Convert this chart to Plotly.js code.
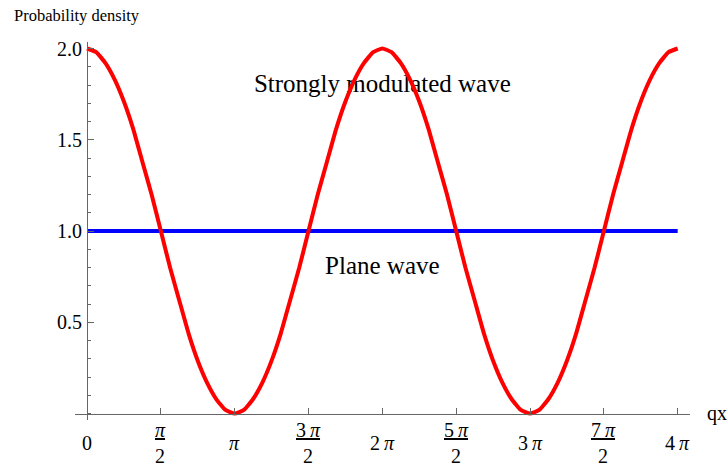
<!DOCTYPE html>
<html>
<head>
<meta charset="utf-8">
<script src="https://cdn.plot.ly/plotly-3.0.1.min.js"></script>
<style>html,body{margin:0;padding:0;background:#fff;}#chart{width:728px;height:468px;}</style>
</head>
<body>
<div id="chart"></div>
<script>
// qx sample points (radians, steps of pi/16) and values
const qx = [0, 0.196, 0.393, 0.589, 0.785, 0.982, 1.178, 1.374, 1.571, 1.767, 1.963, 2.160, 2.356, 2.553, 2.749, 2.945,
            3.142, 3.338, 3.534, 3.731, 3.927, 4.123, 4.320, 4.516, 4.712, 4.909, 5.105, 5.301, 5.498, 5.694, 5.890, 6.087,
            6.283, 6.480, 6.676, 6.872, 7.069, 7.265, 7.461, 7.658, 7.854, 8.050, 8.247, 8.443, 8.639, 8.836, 9.032, 9.228,
            9.425, 9.621, 9.817, 10.014, 10.210, 10.407, 10.603, 10.799, 10.996, 11.192, 11.388, 11.585, 11.781, 11.977, 12.174, 12.370,
            12.566];
const modulated = [2.00, 1.98, 1.92, 1.83, 1.71, 1.56, 1.38, 1.20, 1.00, 0.80, 0.62, 0.44, 0.29, 0.17, 0.08, 0.02,
                   0.00, 0.02, 0.08, 0.17, 0.29, 0.44, 0.62, 0.80, 1.00, 1.20, 1.38, 1.56, 1.71, 1.83, 1.92, 1.98,
                   2.00, 1.98, 1.92, 1.83, 1.71, 1.56, 1.38, 1.20, 1.00, 0.80, 0.62, 0.44, 0.29, 0.17, 0.08, 0.02,
                   0.00, 0.02, 0.08, 0.17, 0.29, 0.44, 0.62, 0.80, 1.00, 1.20, 1.38, 1.56, 1.71, 1.83, 1.92, 1.98,
                   2.00];
const planeX = [0, 12.566];
const plane = [1, 1];
const xTickVals = [0, 1.571, 3.142, 4.712, 6.283, 7.854, 9.425, 10.996, 12.566];
const xTickText = ['0', '<u><i>π</i></u><br>2', '<i>π</i>', '<u>3\u2009<i>π</i></u><br>2', '2\u2009<i>π</i>',
                   '<u>5\u2009<i>π</i></u><br>2', '3\u2009<i>π</i>', '<u>7\u2009<i>π</i></u><br>2', '4\u2009<i>π</i>'];
const yTickVals = [0.5, 1.0, 1.5, 2.0];
const yTickText = ['0.5', '1.0', '1.5', '2.0'];
const curveLabels = ['Strongly modulated wave', 'Plane wave'];

const FONT = '"Liberation Serif", "Times New Roman", serif';
const AX = '#666666';
const xr = [-0.2553, 12.828];
const yr = [-0.035, 2.0356];

const traces = [
  {x: [6.283, 6.283], y: [1.795, 0.80], mode: 'text', text: curveLabels, textposition: 'middle center',
   textfont: {family: FONT, size: 25, color: '#000'}, hoverinfo: 'skip', showlegend: false},
  {x: planeX, y: plane, mode: 'lines', line: {color: '#0000ff', width: 4}, showlegend: false},
  {x: qx, y: modulated, mode: 'lines', line: {color: '#ff0000', width: 4, shape: 'spline', smoothing: 0.4}, showlegend: false}
];

const annotations = xTickVals.map((v, i) => ({
  x: v, xref: 'x', y: -0.0610, yref: 'paper', text: xTickText[i], showarrow: false,
  xanchor: 'center', yanchor: 'middle', font: {family: FONT, size: 20, color: '#000'}
}));
annotations.push({x: 1.0244, xref: 'paper', y: 0.017, yref: 'paper', text: 'qx', showarrow: false,
  xanchor: 'left', yanchor: 'middle', font: {family: FONT, size: 20, color: '#000'}});
annotations.push({x: -0.1024, xref: 'paper', y: 1.0688, yref: 'paper', text: 'Probability density', showarrow: false,
  xanchor: 'left', yanchor: 'middle', font: {family: FONT, size: 16.5, color: '#000'}});

const layout = {
  width: 728, height: 468,
  margin: {l: 75, r: 38, t: 42, b: 48, pad: 0},
  paper_bgcolor: '#fff', plot_bgcolor: '#fff',
  font: {family: FONT, size: 20, color: '#000'},
  xaxis: {
    range: xr, anchor: 'free', position: (0 - yr[0]) / (yr[1] - yr[0]),
    showline: true, linecolor: AX, linewidth: 1, showgrid: false, zeroline: false,
    tickmode: 'array', tickvals: xTickVals, ticks: 'inside', ticklen: 6, tickcolor: AX, tickwidth: 1,
    showticklabels: false
  },
  yaxis: {
    range: yr, anchor: 'free', position: (0 - xr[0]) / (xr[1] - xr[0]),
    showline: true, linecolor: AX, linewidth: 1, showgrid: false, zeroline: false,
    tickmode: 'array', tickvals: yTickVals, ticktext: yTickText, ticks: 'inside', ticklen: 6, tickcolor: AX, tickwidth: 1,
    ticklabelstandoff: 1, tickfont: {family: FONT, size: 20, color: '#000'},
    minor: {tickmode: 'linear', tick0: 0, dtick: 0.1, ticks: 'inside', ticklen: 3, tickcolor: AX, tickwidth: 1, showgrid: false}
  },
  annotations: annotations,
  showlegend: false
};

Plotly.newPlot('chart', traces, layout, {staticPlot: true, displayModeBar: false});
</script>
</body>
</html>
